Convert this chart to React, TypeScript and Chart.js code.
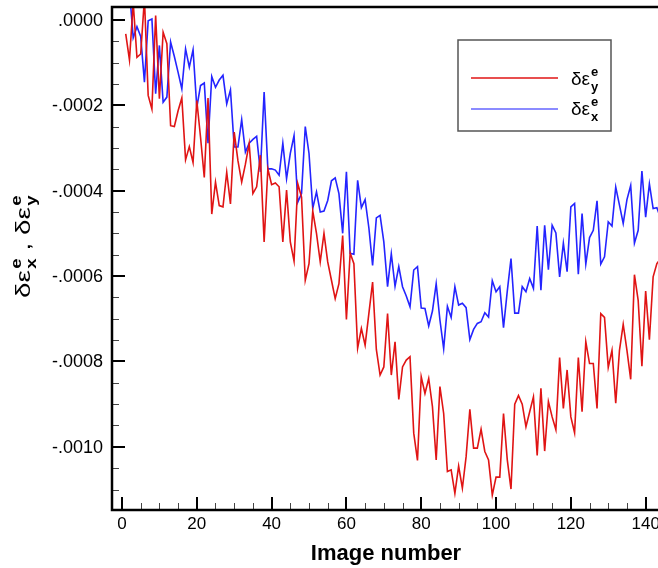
import React, { useEffect, useRef } from "react";
import { Chart, registerables } from "chart.js";

Chart.register(...registerables);

// Image index along the x axis
const imageNumbers = Array.from({ length: 144 }, (_, i) => i + 1);

// Elastic strain increment, y component
const strainY = [
  -0.000033, -0.000094, 0.00004, -0.000088, -0.00008, 0.00005, -0.000177, -0.000209, 0.00001, -0.000185,
  -0.000029, -0.000056, -0.000248, -0.00025, -0.000213, -0.000183, -0.000328, -0.000297, -0.000334, -0.000189,
  -0.000275, -0.000369, -0.000183, -0.000455, -0.00038, -0.000435, -0.000438, -0.000357, -0.000431, -0.000263,
  -0.00033, -0.00038, -0.000338, -0.00029, -0.000407, -0.000391, -0.000317, -0.00052, -0.000349, -0.000386,
  -0.000382, -0.000391, -0.00052, -0.000399, -0.00052, -0.000565, -0.000384, -0.000415, -0.00061, -0.000571,
  -0.000448, -0.0005, -0.000567, -0.0005, -0.000567, -0.00061, -0.000653, -0.000618, -0.000505, -0.000702,
  -0.000546, -0.000571, -0.000769, -0.000723, -0.000762, -0.000688, -0.000614, -0.000772, -0.000832, -0.000813,
  -0.000688, -0.000832, -0.000754, -0.000889, -0.000813, -0.000797, -0.000789, -0.000968, -0.001032, -0.000836,
  -0.000875, -0.00084, -0.000906, -0.001031, -0.000859, -0.000922, -0.001058, -0.001054, -0.001109, -0.001045,
  -0.001097, -0.001023, -0.000912, -0.001003, -0.001003, -0.000959, -0.001011, -0.001031, -0.001113, -0.001071,
  -0.001071, -0.000922, -0.00103, -0.001099, -0.0009, -0.00088, -0.0009, -0.000953, -0.000918, -0.000883,
  -0.00102, -0.000863, -0.00101, -0.000894, -0.00093, -0.00096, -0.000791, -0.00091, -0.00082, -0.00093,
  -0.000967, -0.000791, -0.000918, -0.000754, -0.000805, -0.000805, -0.00091, -0.000688, -0.000697, -0.000814,
  -0.000774, -0.000898, -0.000774, -0.000713, -0.000774, -0.000842, -0.000597, -0.000657, -0.000811, -0.000635,
  -0.000749, -0.000602, -0.000571, -0.000559,
];

// Elastic strain increment, x component
const strainX = [
  0.00005, 0.00007, -0.000042, -0.000016, -0.000039, -0.000146, -0.000002, 0.000002, -0.000173, -0.00006,
  -0.000193, -0.000181, -0.000052, -0.000086, -0.000123, -0.000162, -0.000068, -0.000111, -0.00007, -0.000205,
  -0.000154, -0.000148, -0.000289, -0.000133, -0.000158, -0.000141, -0.00013, -0.000197, -0.000164, -0.000298,
  -0.000298, -0.000234, -0.00031, -0.000289, -0.00028, -0.000273, -0.000356, -0.000169, -0.000349, -0.000349,
  -0.000352, -0.000364, -0.000289, -0.000372, -0.000313, -0.000271, -0.000427, -0.000407, -0.00025, -0.000313,
  -0.000442, -0.000403, -0.00045, -0.000448, -0.000423, -0.000377, -0.00037, -0.000407, -0.0005, -0.000356,
  -0.000547, -0.000549, -0.000376, -0.00044, -0.000421, -0.000487, -0.000575, -0.000464, -0.000458, -0.00052,
  -0.000625, -0.000548, -0.000624, -0.000578, -0.000625, -0.000647, -0.000672, -0.000586, -0.000578, -0.000675,
  -0.000676, -0.000717, -0.000682, -0.000618, -0.000703, -0.00077, -0.000671, -0.000697, -0.000625, -0.000668,
  -0.000664, -0.000674, -0.000749, -0.000725, -0.000711, -0.000707, -0.000686, -0.000696, -0.000611, -0.000637,
  -0.000625, -0.000721, -0.000636, -0.000559, -0.000687, -0.000687, -0.000625, -0.000637, -0.000606, -0.000629,
  -0.000483, -0.000633, -0.000481, -0.000585, -0.000481, -0.000499, -0.000602, -0.000523, -0.00059, -0.000438,
  -0.00043, -0.000596, -0.000454, -0.000572, -0.00051, -0.000493, -0.000424, -0.000572, -0.000555, -0.000473,
  -0.000483, -0.000392, -0.000434, -0.000477, -0.000421, -0.000388, -0.000523, -0.000493, -0.000354, -0.000462,
  -0.000384, -0.000442, -0.00044, -0.000465,
];

// Axis ticks and their labels
const xMajorTicks = [0, 20, 40, 60, 80, 100, 120, 140];
const xTickLabels = ["0", "20", "40", "60", "80", "100", "120", "140"];
const yMajorTicks = [0, -0.0002, -0.0004, -0.0006, -0.0008, -0.001];
const yTickLabels = [".0000", "-.0002", "-.0004", "-.0006", "-.0008", "-.0010"];

const X_MIN = -2.67;
const X_MAX = 143.3;
const Y_MIN = -0.001148;
const Y_MAX = 0.00003;

const RED = "#e01414";
const BLUE = "#2424ff";
const FONT = "'Liberation Sans', Arial, Helvetica, sans-serif";

// draws a symbol with stacked superscript/subscript, returns advance
function drawSymbol(
  ctx: CanvasRenderingContext2D,
  x: number,
  y: number,
  base: string,
  sup: string,
  sub: string,
  size: number
) {
  ctx.font = `${size}px ${FONT}`;
  ctx.fillText(base, x, y);
  const w = ctx.measureText(base).width;
  const small = Math.round(size * 0.66);
  ctx.font = `bold ${small}px ${FONT}`;
  ctx.fillText(sup, x + w + 1, y - size * 0.45);
  ctx.fillText(sub, x + w + 1, y + size * 0.3);
  const sw = Math.max(ctx.measureText(sup).width, ctx.measureText(sub).width);
  return w + 1 + sw;
}

const framePlugin = {
  id: "frame",
  afterDraw(chart: any) {
    const { ctx, chartArea: a } = chart;
    const xs = chart.scales.x;
    const ys = chart.scales.y;
    ctx.save();
    ctx.strokeStyle = "#000";
    ctx.fillStyle = "#000";

    // minor ticks
    ctx.lineWidth = 1;
    ctx.strokeStyle = "#444";
    for (let v = 0; v <= X_MAX; v += 5) {
      if (v % 20 === 0) continue;
      const px = Math.round(xs.getPixelForValue(v)) + 0.5;
      ctx.beginPath();
      ctx.moveTo(px, a.bottom);
      ctx.lineTo(px, a.bottom - 7);
      ctx.stroke();
    }
    for (let k = 1; k * 0.00005 <= -Y_MIN; k++) {
      if (k % 4 === 0) continue;
      const py = Math.round(ys.getPixelForValue(-k * 0.00005)) + 0.5;
      ctx.beginPath();
      ctx.moveTo(a.left, py);
      ctx.lineTo(a.left + 7, py);
      ctx.stroke();
    }

    // major ticks
    ctx.strokeStyle = "#000";
    ctx.lineWidth = 2;
    xMajorTicks.forEach((v) => {
      const px = Math.round(xs.getPixelForValue(v));
      ctx.beginPath();
      ctx.moveTo(px, a.bottom);
      ctx.lineTo(px, a.bottom - 13);
      ctx.stroke();
    });
    yMajorTicks.forEach((v) => {
      const py = Math.round(ys.getPixelForValue(v));
      ctx.beginPath();
      ctx.moveTo(a.left, py);
      ctx.lineTo(a.left + 13, py);
      ctx.stroke();
    });

    // frame: left, bottom, top
    ctx.lineWidth = 2.5;
    ctx.beginPath();
    ctx.moveTo(a.right + 2, a.top);
    ctx.lineTo(a.left, a.top);
    ctx.lineTo(a.left, a.bottom);
    ctx.lineTo(a.right + 2, a.bottom);
    ctx.stroke();

    // tick labels
    ctx.font = `17px ${FONT}`;
    ctx.textAlign = "center";
    ctx.textBaseline = "alphabetic";
    xMajorTicks.forEach((v, i) => {
      ctx.fillText(xTickLabels[i], xs.getPixelForValue(v), 529);
    });
    ctx.font = `18px ${FONT}`;
    ctx.textAlign = "right";
    ctx.textBaseline = "middle";
    yMajorTicks.forEach((v, i) => {
      ctx.fillText(yTickLabels[i], 103, ys.getPixelForValue(v) + 1);
    });

    // x axis title
    ctx.font = `bold 22px ${FONT}`;
    ctx.textAlign = "center";
    ctx.textBaseline = "alphabetic";
    ctx.fillText("Image number", 386, 560);

    // y axis title (rotated, wide glyphs)
    ctx.save();
    ctx.translate(30, 298);
    ctx.rotate(-Math.PI / 2);
    ctx.scale(1.33, 1);
    ctx.textAlign = "left";
    ctx.textBaseline = "alphabetic";
    let cx = 0;
    cx += drawSymbol(ctx, cx, 0, "δε", "e", "x", 21);
    ctx.font = `21px ${FONT}`;
    ctx.fillText(" , ", cx, 0);
    cx += ctx.measureText(" , ").width;
    drawSymbol(ctx, cx, 0, "δε", "e", "y", 21);
    ctx.restore();

    // legend
    ctx.lineWidth = 1.5;
    ctx.strokeStyle = "#555";
    ctx.strokeRect(458, 40, 153, 91);
    ctx.lineWidth = 1.6;
    ctx.strokeStyle = RED;
    ctx.beginPath();
    ctx.moveTo(471, 78);
    ctx.lineTo(558, 78);
    ctx.stroke();
    ctx.strokeStyle = "#6464ff";
    ctx.beginPath();
    ctx.moveTo(471, 109);
    ctx.lineTo(558, 109);
    ctx.stroke();
    ctx.fillStyle = "#000";
    ctx.textAlign = "left";
    ctx.textBaseline = "alphabetic";
    drawSymbol(ctx, 571, 85, "δε", "e", "y", 19);
    drawSymbol(ctx, 571, 115, "δε", "e", "x", 19);

    ctx.restore();
  },
};

export default function App() {
  const canvasRef = useRef<HTMLCanvasElement | null>(null);

  useEffect(() => {
    const canvas = canvasRef.current;
    if (!canvas) return;
    const chart = new Chart(canvas, {
      type: "line",
      data: {
        datasets: [
          {
            label: "δε_y",
            data: imageNumbers.map((n, i) => ({ x: n, y: strainY[i] })),
            borderColor: RED,
            borderWidth: 1.6,
            pointRadius: 0,
            tension: 0,
            fill: false,
          },
          {
            label: "δε_x",
            data: imageNumbers.map((n, i) => ({ x: n, y: strainX[i] })),
            borderColor: BLUE,
            borderWidth: 1.6,
            pointRadius: 0,
            tension: 0,
            fill: false,
          },
        ],
      },
      options: {
        responsive: false,
        animation: false,
        devicePixelRatio: 1,
        layout: { padding: { left: 112, top: 7, right: 0, bottom: 58 } },
        plugins: { legend: { display: false }, tooltip: { enabled: false } },
        scales: {
          x: { type: "linear", min: X_MIN, max: X_MAX, display: false },
          y: { type: "linear", min: Y_MIN, max: Y_MAX, display: false },
        },
      },
      plugins: [framePlugin],
    });
    return () => chart.destroy();
  }, []);

  return (
    <div style={{ position: "fixed", left: 0, top: 0, width: 658, height: 568, background: "#fff" }}>
      <canvas ref={canvasRef} width={658} height={568} />
    </div>
  );
}
